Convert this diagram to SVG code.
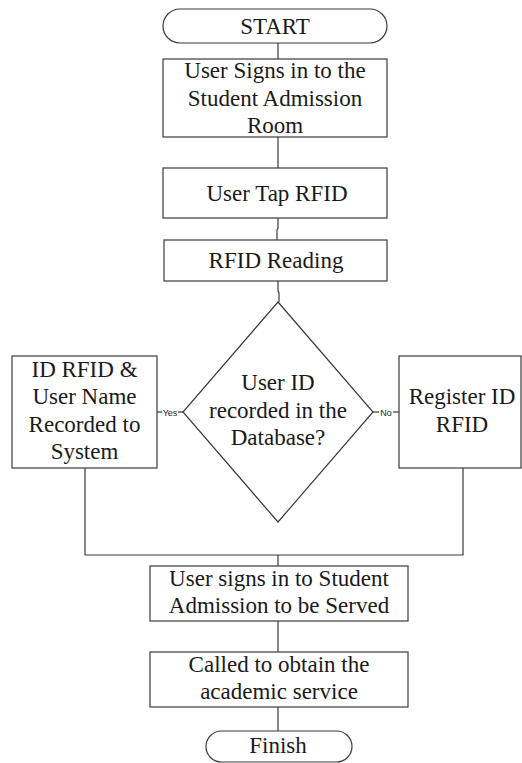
<svg xmlns="http://www.w3.org/2000/svg" width="522" height="763" viewBox="0 0 522 763">
  <style>
    .shape { fill: #ffffff; stroke: #3a3a3a; stroke-width: 1.2; }
    .wire { fill: none; stroke: #3a3a3a; stroke-width: 1.2; }
    .t { font-family: 'Liberation Serif', serif; font-size: 23px; fill: #1a1a1a; text-anchor: middle; }
    .lbl { font-family: 'Liberation Sans', sans-serif; font-size: 9px; fill: #1a1a1a; text-anchor: middle; }
    .mask { fill: #ffffff; stroke: none; }
  </style>
  <rect width="522" height="763" fill="#ffffff"/>

  <g id="connectors">
    <line class="wire" x1="278" y1="43" x2="278" y2="59"/>
    <line class="wire" x1="278" y1="137" x2="278" y2="168"/>
    <path class="wire" d="M278,218 V228 L277,230 V240"/>
    <path class="wire" d="M278,281 V291 L279,293 V302"/>
    <line class="wire" x1="183" y1="412" x2="157" y2="412"/>
    <line class="wire" x1="373" y1="412" x2="399" y2="412"/>
    <path class="wire" d="M85,468 V555 H463 V468"/>
    <line class="wire" x1="278" y1="555" x2="278" y2="566"/>
    <line class="wire" x1="278" y1="621" x2="278" y2="652"/>
    <line class="wire" x1="278" y1="707" x2="278" y2="731"/>
    <rect class="mask" x="162" y="407" width="16" height="10"/>
    <text class="lbl" x="170" y="415.5">Yes</text>
    <rect class="mask" x="379" y="407" width="14" height="10"/>
    <text class="lbl" x="386" y="415.5">No</text>
  </g>

  <g id="start">
    <rect class="shape" x="163" y="9" width="224" height="34" rx="17" ry="17"/>
    <text class="t" x="275" y="33.5">START</text>
  </g>

  <g id="sign-in-room">
    <rect class="shape" x="163" y="59" width="224" height="78"/>
    <text class="t" x="275" y="78">User Signs in to the</text>
    <text class="t" x="275" y="106">Student Admission</text>
    <text class="t" x="275" y="133">Room</text>
  </g>

  <g id="tap-rfid">
    <rect class="shape" x="163" y="168" width="224" height="50"/>
    <text class="t" x="277" y="201">User Tap RFID</text>
  </g>

  <g id="rfid-reading">
    <rect class="shape" x="164" y="240" width="223" height="41"/>
    <text class="t" x="276" y="268">RFID Reading</text>
  </g>

  <g id="decision">
    <polygon class="shape" points="278,302 373,412 278,522 183,412"/>
    <text class="t" x="278" y="390">User ID</text>
    <text class="t" x="278" y="418">recorded in the</text>
    <text class="t" x="278" y="445">Database?</text>
  </g>

  <g id="record-to-system">
    <rect class="shape" x="12" y="356" width="145" height="112"/>
    <text class="t" x="84.5" y="377">ID RFID &amp;</text>
    <text class="t" x="84.5" y="404">User Name</text>
    <text class="t" x="84.5" y="432">Recorded to</text>
    <text class="t" x="84.5" y="459">System</text>
  </g>

  <g id="register-rfid">
    <rect class="shape" x="399" y="356" width="122" height="112"/>
    <text class="t" x="462" y="404">Register ID</text>
    <text class="t" x="462" y="432">RFID</text>
  </g>

  <g id="sign-in-served">
    <rect class="shape" x="150" y="566" width="258" height="55"/>
    <text class="t" x="279" y="586">User signs in to Student</text>
    <text class="t" x="279" y="613">Admission to be Served</text>
  </g>

  <g id="called-service">
    <rect class="shape" x="150" y="652" width="258" height="55"/>
    <text class="t" x="279" y="672">Called to obtain the</text>
    <text class="t" x="279" y="699">academic service</text>
  </g>

  <g id="finish">
    <rect class="shape" x="206" y="731" width="146" height="31" rx="15.5" ry="15.5"/>
    <text class="t" x="278" y="753">Finish</text>
  </g>
</svg>
